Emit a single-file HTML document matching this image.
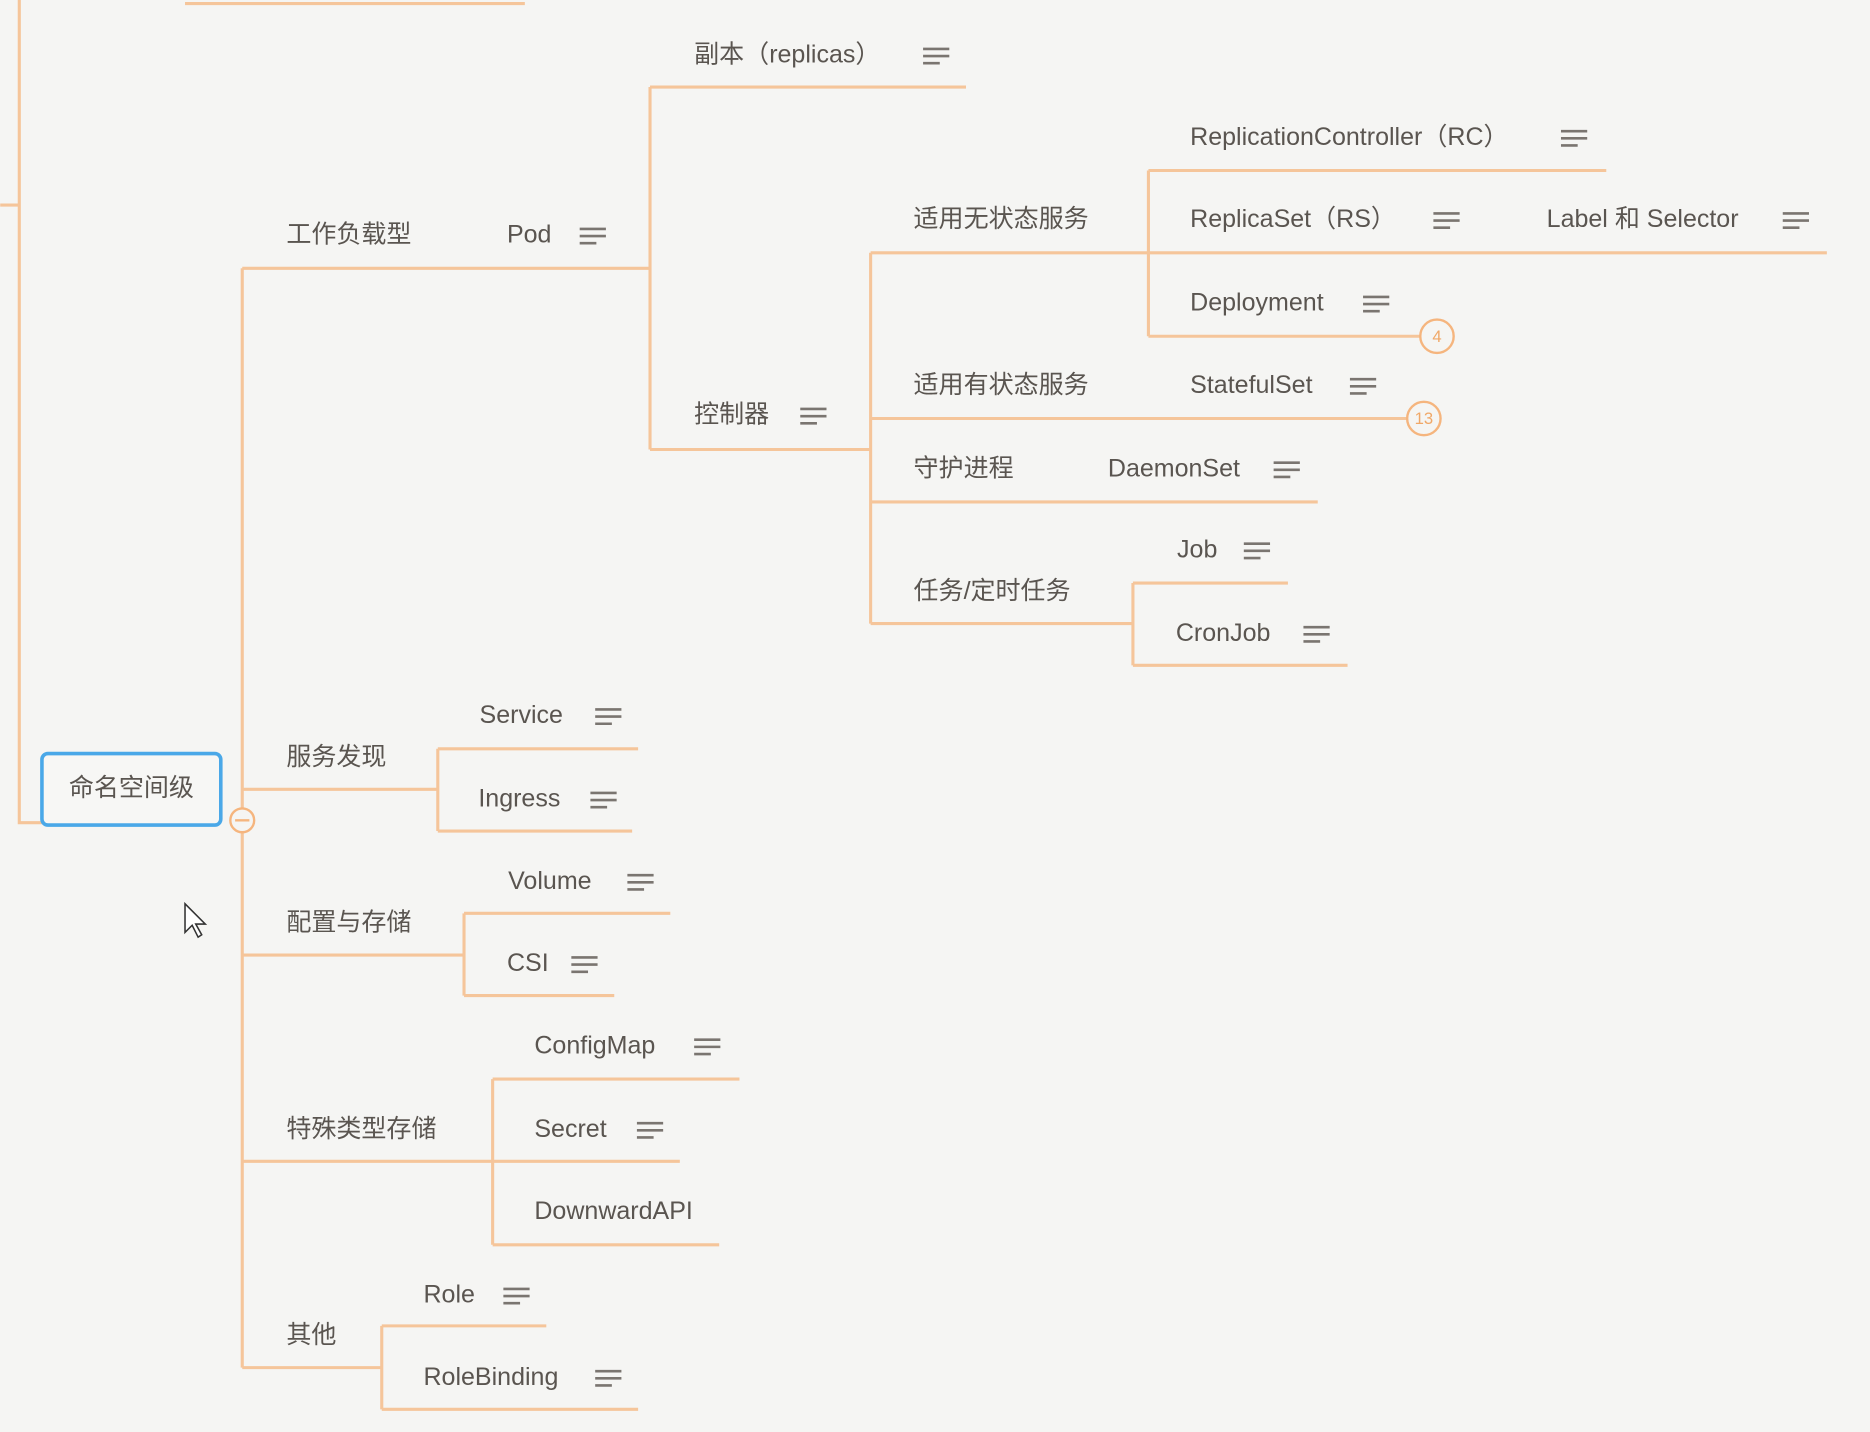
<!DOCTYPE html>
<html><head><meta charset="utf-8"><style>
html,body{margin:0;padding:0;background:#f5f5f3;}
svg{display:block}
text{font-family:"Liberation Sans","Noto Sans CJK SC",sans-serif;font-size:21px;fill:#5a5550;dominant-baseline:middle}
</style></head><body>
<svg width="1870" height="1432" viewBox="0 0 1568 1201" xmlns="http://www.w3.org/2000/svg">
<rect width="1568" height="1201" fill="#f5f5f3"/>
<defs>
<g id="ic" stroke="#7a7570" stroke-width="2.2" fill="none">
<line x1="-11" y1="-6" x2="11" y2="-6"/><line x1="-11" y1="0" x2="11" y2="0"/><line x1="-11" y1="6" x2="3" y2="6"/>
</g>
</defs>
<g stroke="#f5c59a" stroke-width="2.6" fill="none">
<path d="M16 0V690H35"/><path d="M0 172H16"/><path d="M155 3H440"/>
<path d="M203 225V1147"/>
<path d="M203 225H545"/><path d="M545 73V377"/><path d="M545 73H810"/><path d="M545 377H730"/>
<path d="M730 212V523"/>
<path d="M730 212H963"/><path d="M963 143V282"/><path d="M963 143H1347"/><path d="M963 212H1532"/><path d="M963 282H1195"/>
<path d="M730 351H1183"/><path d="M730 421H1105"/>
<path d="M730 523H950"/><path d="M950 489V558"/><path d="M950 489H1080"/><path d="M950 558H1130"/>
<path d="M203 662H367"/><path d="M367 628V697"/><path d="M367 628H535"/><path d="M367 697H530"/>
<path d="M203 801H389"/><path d="M389 766V835"/><path d="M389 766H562"/><path d="M389 835H515"/>
<path d="M203 974H413"/><path d="M413 905V1044"/><path d="M413 905H620"/><path d="M413 974H570"/><path d="M413 1044H603"/>
<path d="M203 1147H320"/><path d="M320 1112V1182"/><path d="M320 1112H458"/><path d="M320 1182H535"/>
</g>
<g stroke="#f5b57e" stroke-width="2" fill="#f5f5f3">
<circle cx="203" cy="688" r="10"/><circle cx="1205" cy="282" r="14"/><circle cx="1194" cy="351" r="14"/>
</g>
<line x1="197" y1="688" x2="209" y2="688" stroke="#f5b57e" stroke-width="2"/>
<text x="1205" y="283" text-anchor="middle" style="font-size:14px;fill:#f0a868">4</text>
<text x="1194" y="352" text-anchor="middle" style="font-size:14px;fill:#f0a868">13</text>
<rect x="35" y="632" width="150" height="60" rx="5" fill="#f7f7f5" stroke="#4aa8e8" stroke-width="3"/>
<text x="110" y="662" text-anchor="middle">命名空间级</text>
<text x="240" y="198">工作负载型</text><text x="425" y="198">Pod</text><use href="#ic" x="497" y="198"/>
<text x="582" y="47">副本（replicas）</text><use href="#ic" x="785" y="47"/>
<text x="582" y="349">控制器</text><use href="#ic" x="682" y="349"/>
<text x="766" y="185">适用无状态服务</text>
<text x="998" y="116">ReplicationController（RC）</text><use href="#ic" x="1320" y="116"/>
<text x="998" y="185">ReplicaSet（RS）</text><use href="#ic" x="1213" y="185"/>
<text x="1297" y="185">Label 和 Selector</text><use href="#ic" x="1506" y="185"/>
<text x="998" y="255">Deployment</text><use href="#ic" x="1154" y="255"/>
<text x="766" y="324">适用有状态服务</text><text x="998" y="324">StatefulSet</text><use href="#ic" x="1143" y="324"/>
<text x="766" y="394">守护进程</text><text x="929" y="394">DaemonSet</text><use href="#ic" x="1079" y="394"/>
<text x="766" y="497">任务/定时任务</text>
<text x="987" y="462">Job</text><use href="#ic" x="1054" y="462"/>
<text x="986" y="532">CronJob</text><use href="#ic" x="1104" y="532"/>
<text x="240" y="636">服务发现</text>
<text x="402" y="601">Service</text><use href="#ic" x="510" y="601"/>
<text x="401" y="671">Ingress</text><use href="#ic" x="506" y="671"/>
<text x="240" y="775">配置与存储</text>
<text x="426" y="740">Volume</text><use href="#ic" x="537" y="740"/>
<text x="425" y="809">CSI</text><use href="#ic" x="490" y="809"/>
<text x="240" y="948">特殊类型存储</text>
<text x="448" y="878">ConfigMap</text><use href="#ic" x="593" y="878"/>
<text x="448" y="948">Secret</text><use href="#ic" x="545" y="948"/>
<text x="448" y="1017">DownwardAPI</text>
<text x="240" y="1121">其他</text>
<text x="355" y="1087">Role</text><use href="#ic" x="433" y="1087"/>
<text x="355" y="1156">RoleBinding</text><use href="#ic" x="510" y="1156"/>
<path d="M155 758V782L161 776L166 786L169 784L164 775H172Z" fill="#fff" stroke="#333" stroke-width="1.3"/>
</svg>
</body></html>
